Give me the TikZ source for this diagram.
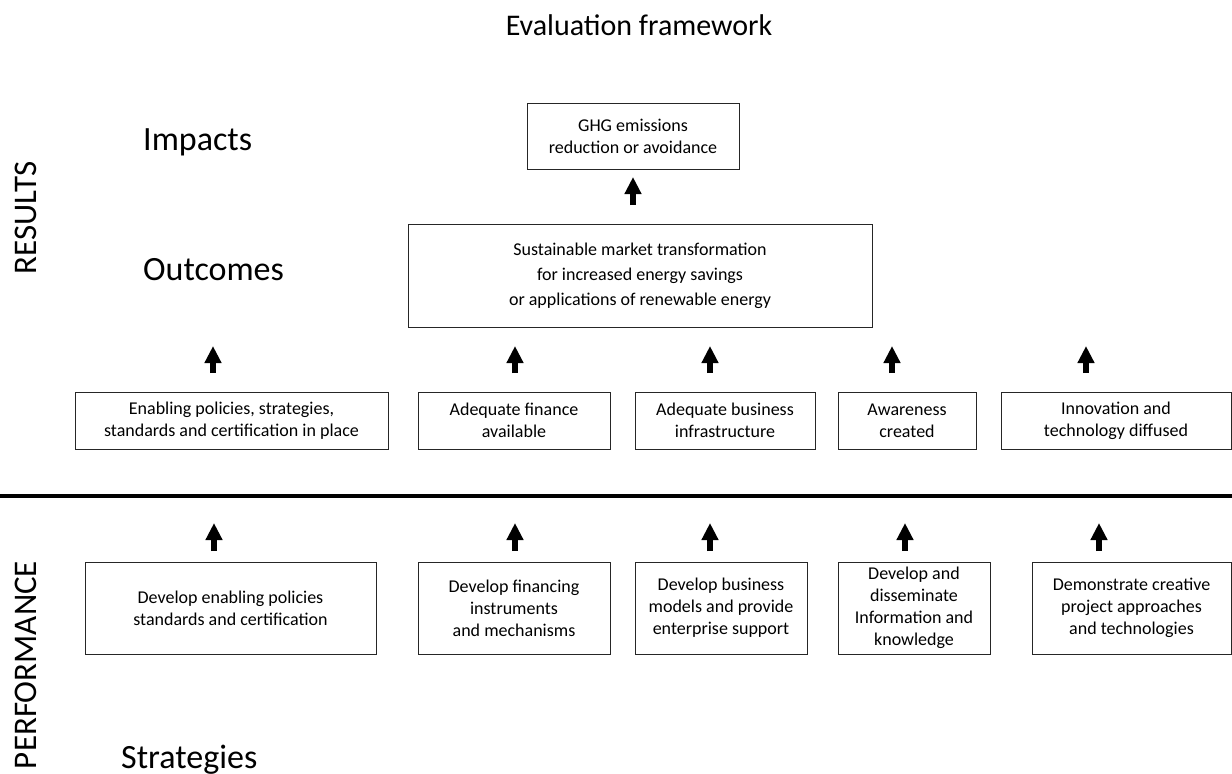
\documentclass[tikz,border=0pt]{standalone}
\usepackage{fontspec}
\setmainfont{Carlito}
\usetikzlibrary{arrows.meta}

\tikzset{
  box/.style={draw=black!85,line width=1pt,inner sep=0pt,align=center,font=\fontsize{18}{22}\selectfont},
  uparrow/.style={line width=6pt,-{Triangle[length=17pt,width=16pt]}},
  level/.style={anchor=base west,inner sep=0pt,font=\fontsize{34}{40}\selectfont},
  side/.style={rotate=90,inner sep=0pt,font=\fontsize{33}{40}\selectfont}
}

\begin{document}
\begin{tikzpicture}[x=1pt,y=-1pt]
\useasboundingbox (0,0) rectangle (1232,774);

\node[anchor=base,inner sep=0pt,font=\fontsize{30}{36}\selectfont] (title) at (639,35) {Evaluation framework};

\node[side] (results) at (26,218) {RESULTS};
\node[side] (performance) at (26,665) {PERFORMANCE};

\node[level] (impacts) at (143,150) {Impacts};
\node[level] (outcomes) at (143,280) {Outcomes};
\node[level] (strategies) at (121,768) {Strategies};

% impacts and outcomes
\node[box,minimum width=212pt,minimum height=66pt] (ghg) at (633,136) {GHG emissions\\reduction or avoidance};
\node[box,minimum width=464pt,minimum height=103pt,font=\fontsize{18}{25}\selectfont] (market) at (640,275.5) {Sustainable market transformation\\for increased energy savings\\or applications of renewable energy};
\coordinate (up0) at (633,205);
\draw[uparrow] (up0) -- (ghg.south |- 0,177);

% results row
\node[box,minimum width=313pt,minimum height=57pt] (res1) at (231.5,420.5) {Enabling policies, strategies,\\standards and certification in place};
\node[box,minimum width=192pt,minimum height=57pt] (res2) at (514,420.5) {Adequate finance\\available};
\node[box,minimum width=180pt,minimum height=57pt] (res3) at (725,420.5) {Adequate business\\infrastructure};
\node[box,minimum width=138pt,minimum height=57pt] (res4) at (907,420.5) {Awareness\\created};
\node[box,minimum width=230pt,minimum height=57pt] (res5) at (1116,420.5) {Innovation and\\technology diffused};

\foreach \n/\x in {1/213,2/515,3/710,4/892,5/1086}{
  \coordinate (up\n) at (\x,373);
  \draw[uparrow] (up\n) -- ++(0,-27);
}

% divider
\draw[line width=3.5pt] (0,496) -- (1232,496);

% strategies row
\node[box,minimum width=291pt,minimum height=92pt] (str1) at (230.5,608) {Develop enabling policies\\standards and certification};
\node[box,minimum width=192pt,minimum height=92pt] (str2) at (514,608) {Develop financing\\instruments\\and mechanisms};
\node[box,minimum width=172pt,minimum height=92pt] (str3) at (721,608) {Develop business\\models and provide\\enterprise support};
\node[box,minimum width=152pt,minimum height=92pt] (str4) at (914,608) {Develop and\\disseminate\\Information and\\knowledge};
\node[box,minimum width=199pt,minimum height=92pt] (str5) at (1131.5,608) {Demonstrate creative\\project approaches\\and technologies};

\foreach \n/\x in {1/214,2/515,3/710,4/905,5/1099}{
  \coordinate (dn\n) at (\x,551);
  \draw[uparrow] (dn\n) -- ++(0,-28);
}
\end{tikzpicture}
\end{document}
